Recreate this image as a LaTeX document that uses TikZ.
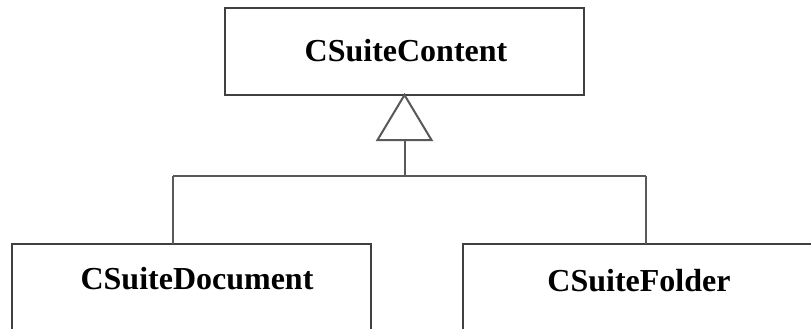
\documentclass[tikz,border=0pt]{standalone}
\usepackage{fontspec}
\setmainfont{Liberation Serif}
\usetikzlibrary{calc}
\begin{document}
\begin{tikzpicture}[x=1pt,y=-1pt,
  box/.style={draw=black!75,line width=2pt,fill=white,inner sep=0pt,outer sep=0pt},
  lbl/.style={font=\fontsize{32}{38}\selectfont\bfseries,text=black,inner sep=0pt},
  conn/.style={draw=black!65,line width=2pt}]
\useasboundingbox (0,0) rectangle (811,329);
\clip (0,0) rectangle (811,329);
\fill[white] (0,0) rectangle (811,329);
% boxes
\node[box,minimum width=359pt,minimum height=87pt] (top) at (404.5,51.5) {};
\node[box,minimum width=359pt,minimum height=120pt,anchor=north west] (doc) at (12,244) {};
\node[box,minimum width=380pt,minimum height=120pt,anchor=north west] (fold) at (463,244) {};
% labels
\node[lbl] (ltop) at (406,51) {CSuiteContent};
\node[lbl] (ldoc) at (197,279) {CSuiteDocument};
\node[lbl] (lfold) at (639,281) {CSuiteFolder};
% connectors
\coordinate (base) at ($(top.south)+(0,45)$);
\coordinate (junc) at (404.5,176);
\coordinate (jl) at (173,176);
\coordinate (jr) at (646,176);
\draw[conn,line join=miter] (top.south) -- ++(-27,45) -- ++(54,0) -- cycle;
\draw[conn] (base) -- (junc);
\draw[conn] (jl) -- (jr);
\draw[conn] (jl) -- (jl |- doc.north);
\draw[conn] (jr) -- (jr |- fold.north);
\end{tikzpicture}
\end{document}
